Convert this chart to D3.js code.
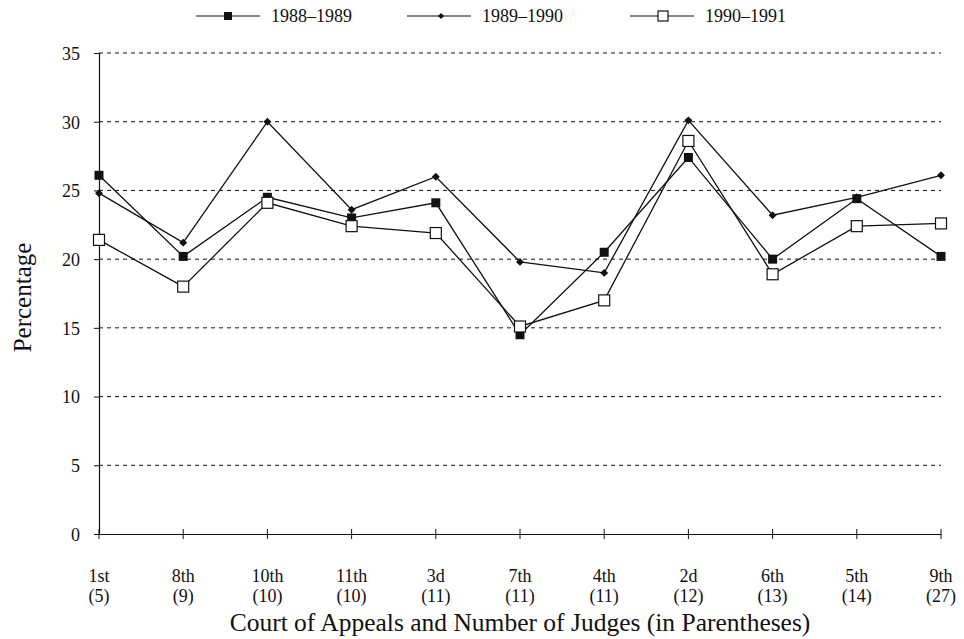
<!DOCTYPE html>
<html>
<head>
<meta charset="utf-8">
<script src="https://cdn.jsdelivr.net/npm/d3@7"></script>
<style>
  body { margin: 0; background: #fff; }
  svg text { font-family: "Liberation Serif", "DejaVu Serif", serif; fill: #111; }
</style>
</head>
<body>
<div id="chart"></div>
<script>
const courts = ["1st", "8th", "10th", "11th", "3d", "7th", "4th", "2d", "6th", "5th", "9th"]
const judges = ["(5)", "(9)", "(10)", "(10)", "(11)", "(11)", "(11)", "(12)", "(13)", "(14)", "(27)"]
const yTicks = [0, 5, 10, 15, 20, 25, 30, 35]

const s1988 = [26.1, 20.2, 24.5, 23.0, 24.1, 14.5, 20.5, 27.4, 20.0, 24.4, 20.2]
const s1989 = [24.8, 21.2, 30.0, 23.6, 26.0, 19.8, 19.0, 30.1, 23.2, 24.5, 26.1]
const s1990 = [21.4, 18.0, 24.1, 22.4, 21.9, 15.1, 17.0, 28.6, 18.9, 22.4, 22.6]

const seriesNames = ["1988–1989", "1989–1990", "1990–1991"]
const seriesData = [s1988, s1989, s1990]
const markers = ["filled", "diamond", "open"]

const W = 964, H = 639
const margin = { top: 53, right: 23, bottom: 105, left: 99 }
const width = W - margin.left - margin.right
const height = H - margin.top - margin.bottom

const svg = d3.select('#chart')
    .append('svg')
    .attr('width', W)
    .attr('height', H)

const g = svg.append('g')
    .attr('transform', `translate(${margin.left}, ${margin.top})`)

const x = d3.scalePoint()
    .domain(courts)
    .range([0, width])
const y = d3.scaleLinear()
    .domain([0, 35])
    .range([height, 0])

// dashed gridlines
g.selectAll('.grid')
    .data(yTicks.filter(d => d > 0))
    .enter().append('line')
    .attr('x1', 0)
    .attr('x2', width)
    .attr('y1', d => y(d))
    .attr('y2', d => y(d))
    .attr('stroke', '#111')
    .attr('stroke-width', 1)
    .attr('stroke-dasharray', '4,4')

// y axis
const yAxis = g.append('g')
    .call(d3.axisLeft(y).tickValues(yTicks).tickSize(5).tickPadding(14))
yAxis.select('.domain').attr('stroke', '#111').attr('stroke-width', 1.2)
yAxis.selectAll('.tick line').attr('stroke', '#111').attr('x2', 0).attr('x1', -5)
yAxis.selectAll('.tick text').style('font-size', '18px').attr('dy', '0.35em')

// x axis
const xAxis = g.append('g')
    .attr('transform', `translate(0, ${height})`)
    .call(d3.axisBottom(x).tickSize(0).tickFormat(''))
xAxis.select('.domain').attr('stroke', '#111').attr('stroke-width', 1.2)
xAxis.selectAll('.tick line').remove()
g.selectAll('.xtick')
    .data(courts)
    .enter().append('line')
    .attr('x1', d => x(d))
    .attr('x2', d => x(d))
    .attr('y1', height - 5)
    .attr('y2', height + 5)
    .attr('stroke', '#111')

const labels = g.selectAll('.xlabel')
    .data(courts)
    .enter().append('text')
    .attr('text-anchor', 'middle')
    .attr('x', d => x(d))
    .style('font-size', '18px')
labels.append('tspan')
    .attr('x', d => x(d))
    .attr('y', height + 48)
    .text(d => d)
labels.append('tspan')
    .attr('x', d => x(d))
    .attr('y', height + 68)
    .text((d, i) => judges[i])

// axis titles
svg.append('text')
    .attr('transform', `translate(31, ${margin.top + height / 2 + 4}) rotate(-90)`)
    .attr('text-anchor', 'middle')
    .style('font-size', '25px')
    .text('Percentage')
svg.append('text')
    .attr('x', 520)
    .attr('y', 631)
    .attr('text-anchor', 'middle')
    .style('font-size', '25.5px')
    .text('Court of Appeals and Number of Judges (in Parentheses)')

// lines
const line = d3.line()
    .x((d, i) => x(courts[i]))
    .y(d => y(d))

seriesData.forEach(data => {
    g.append('path')
        .datum(data)
        .attr('fill', 'none')
        .attr('stroke', '#111')
        .attr('stroke-width', 1.3)
        .attr('d', line)
})

const drawMarker = (sel, type, cx, cy) => {
    if (type === 'filled') {
        sel.append('rect')
            .attr('x', cx - 4.5).attr('y', cy - 4.5)
            .attr('width', 9).attr('height', 9)
            .attr('fill', '#111')
    } else if (type === 'open') {
        sel.append('rect')
            .attr('x', cx - 5.5).attr('y', cy - 5.5)
            .attr('width', 11).attr('height', 11)
            .attr('fill', '#fff')
            .attr('stroke', '#111')
            .attr('stroke-width', 1.2)
    } else {
        sel.append('path')
            .attr('d', d3.symbol().type(d3.symbolDiamond2).size(40)())
            .attr('transform', `translate(${cx}, ${cy})`)
            .attr('fill', '#111')
    }
}

seriesData.forEach((data, k) => {
    data.forEach((v, i) => drawMarker(g, markers[k], x(courts[i]), y(v)))
})

// legend
const legendX = [196, 407, 630]
const legend = svg.append('g')
seriesNames.forEach((name, k) => {
    const lx = legendX[k]
    legend.append('line')
        .attr('x1', lx).attr('x2', lx + 64)
        .attr('y1', 16).attr('y2', 16)
        .attr('stroke', '#111')
        .attr('stroke-width', 1.2)
    if (markers[k] === 'filled') {
        legend.append('rect').attr('x', lx + 28).attr('y', 12).attr('width', 8).attr('height', 8).attr('fill', '#111')
    } else if (markers[k] === 'open') {
        legend.append('rect').attr('x', lx + 28).attr('y', 11).attr('width', 10).attr('height', 10)
            .attr('fill', '#fff').attr('stroke', '#111').attr('stroke-width', 1.2)
    } else {
        legend.append('path')
            .attr('d', d3.symbol().type(d3.symbolDiamond2).size(24)())
            .attr('transform', `translate(${lx + 34}, 16)`)
            .attr('fill', '#111')
    }
    legend.append('text')
        .attr('x', lx + 75)
        .attr('y', 22)
        .style('font-size', '18px')
        .text(name)
})
</script>
</body>
</html>
